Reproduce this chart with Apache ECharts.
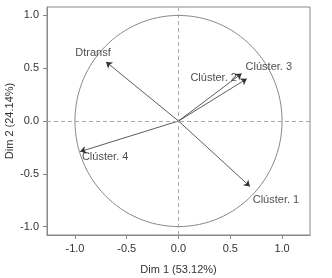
<!DOCTYPE html>
<html><head><meta charset="utf-8">
<script src="https://cdn.jsdelivr.net/npm/echarts@6/dist/echarts.min.js"></script>
<style>html,body{margin:0;padding:0;background:#fff}#c{width:332px;height:278px}</style>
</head><body><div id="c"></div>
<script>
const names = ['Dtransf', 'Clúster. 2', 'Clúster. 3', 'Clúster. 4', 'Clúster. 1'];
const dim1 = [-0.70, 0.61, 0.66, -0.95, 0.69];
const dim2 = [0.56, 0.45, 0.40, -0.29, -0.62];
const tickValues = [-1.0, -0.5, 0.0, 0.5, 1.0];
const xTitle = 'Dim 1 (53.12%)';
const yTitle = 'Dim 2 (24.14%)';

const labelOffsets = {
  'Dtransf': [-13, -9],
  'Clúster. 2': [-28, 4],
  'Clúster. 3': [22, -12],
  'Clúster. 4': [25, 5],
  'Clúster. 1': [26, 14]
};
const FONT = 'Liberation Sans';
const chart = echarts.init(document.getElementById('c'));
const fmt = v => v.toFixed(1);
function axisCommon(name, gap) {
  return {
    type: 'value',
    name: name, nameLocation: 'middle', nameGap: gap, nameMoveOverlap: false,
    nameTextStyle: {color: '#333', fontSize: 11, fontFamily: FONT, verticalAlign: 'middle'},
    axisLine: {show: true, onZero: false, lineStyle: {color: '#888', width: 1}},
    axisTick: {show: true, length: 4, customValues: tickValues, lineStyle: {color: '#888'}},
    axisLabel: {customValues: tickValues, formatter: fmt, color: '#333', fontSize: 11, fontFamily: FONT},
    splitLine: {show: false}
  };
}
chart.setOption({
  animation: false,
  grid: {left: 47, top: 7, right: 22, bottom: 43, show: true, borderColor: '#888', borderWidth: 1,
         containLabel: false, outerBoundsMode: 'none'},
  xAxis: Object.assign(axisCommon(xTitle, 35), {min: -1.27, max: 1.27}),
  yAxis: Object.assign(axisCommon(yTitle, 37), {min: -1.08, max: 1.08}),
  series: [
    {
      type: 'custom',
      silent: true,
      data: [[0, 0]],
      renderItem: function (params, api) {
        const c = api.coord([0, 0]);
        const s = api.size([1, 1]);
        return {
          type: 'ellipse',
          shape: {cx: c[0], cy: c[1], rx: s[0], ry: s[1]},
          style: {fill: 'none', stroke: '#888', lineWidth: 1}
        };
      },
      markLine: {
        silent: true, symbol: 'none', label: {show: false},
        lineStyle: {color: '#aaa', type: [4, 3], width: 1},
        data: [{xAxis: 0}, {yAxis: 0}]
      }
    },
    {
      type: 'lines',
      coordinateSystem: 'cartesian2d',
      symbol: ['none', 'arrow'],
      symbolSize: 6,
      lineStyle: {color: '#333', width: 0.8, opacity: 1},
      data: names.map((n, i) => ({coords: [[0, 0], [dim1[i], dim2[i]]]}))
    },
    {
      type: 'scatter',
      symbolSize: 0,
      data: names.map((n, i) => ({
        value: [dim1[i], dim2[i]],
        name: n,
        label: {offset: labelOffsets[n]}
      })),
      label: {
        show: true, position: 'inside', formatter: p => p.name,
        color: '#222', fontSize: 11, fontFamily: FONT
      }
    }
  ]
});
</script></body></html>
